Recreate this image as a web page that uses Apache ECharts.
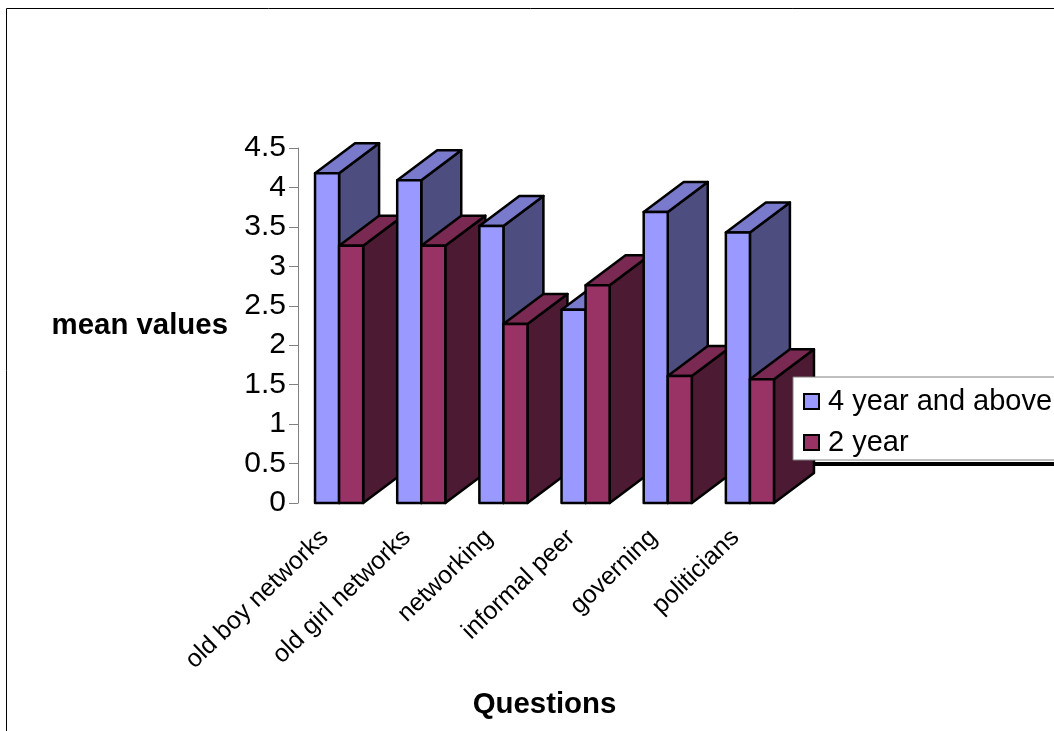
<!DOCTYPE html>
<html><head><meta charset="utf-8">
<style>html,body{margin:0;padding:0;background:#fff;overflow:hidden}#c{width:1054px;height:731px}</style>
<script src="https://cdn.jsdelivr.net/npm/echarts@6/dist/echarts.min.js"></script>
</head><body><div id="c"></div>
<script>
const categories = ['old boy networks','old girl networks','networking','informal peer','governing','politicians'];
const fourYear = [4.18,4.09,3.51,2.45,3.69,3.43];
const twoYear = [3.26,3.26,2.27,2.76,1.61,1.57];
const seriesNames = ['4 year and above','2 year'];
const FONT = '"Liberation Sans", Arial, sans-serif';
const DX = 40, DY = 30, BAR_RATIO = 0.2927;
const palette = [
  {front:'#9999FF', top:'#7A7ACC', side:'#4D4D80'},
  {front:'#993366', top:'#7A2952', side:'#4D1A33'}
];
function bar3d(seriesIdx){
  return function(params, api){
    const cat = api.value(0), val = api.value(1);
    const base = api.coord([cat,0]), tip = api.coord([cat,val]);
    const w = api.size([1,0])[0]*BAR_RATIO;
    const x0 = base[0] + (seriesIdx-1)*w, x1 = x0 + w;
    const yb = base[1], yt = tip[1];
    const c = palette[seriesIdx];
    const z2 = cat*10 + seriesIdx*3;
    const st = f => ({fill:f, stroke:'#000', lineWidth:2.5, lineJoin:'round'});
    return {type:'group', children:[
      {type:'polygon', z2:z2, shape:{points:[[x1,yb],[x1+DX,yb-DY],[x1+DX,yt-DY],[x1,yt]]}, style:st(c.side)},
      {type:'polygon', z2:z2+1, shape:{points:[[x0,yt],[x0+DX,yt-DY],[x1+DX,yt-DY],[x1,yt]]}, style:st(c.top)},
      {type:'polygon', z2:z2+2, shape:{points:[[x0,yb],[x1,yb],[x1,yt],[x0,yt]]}, style:st(c.front)}
    ]};
  };
}
const chart = echarts.init(document.getElementById('c'));
chart.setOption({
  animation:false,
  backgroundColor:'#fff',
  textStyle:{fontFamily:FONT},
  graphic:[
    {type:'rect', z:0, silent:true, shape:{x:6.5,y:8.5,width:1100,height:800}, style:{fill:'none',stroke:'#000',lineWidth:1}},
    {type:'rect', z:0, silent:true, shape:{x:798,y:462,width:300,height:4}, style:{fill:'#000'}}
  ],
  grid:{left:298, top:148, width:493, height:355, outerBoundsMode:'none'},
  legend:{
    orient:'vertical', left:793, top:377, padding:[10,60,3,10],
    backgroundColor:'#fff', borderColor:'#808080', borderWidth:1, borderRadius:0,
    itemWidth:15, itemHeight:15, itemGap:12, z:20,
    textStyle:{fontFamily:FONT,fontSize:29,color:'#000',padding:[0,0,0,4]},
    selectedMode:false,
    data:seriesNames.map((n,i)=>({name:n, icon:'rect', itemStyle:{color:palette[i].front, borderColor:'#000', borderWidth:2}}))
  },
  xAxis:{
    type:'category', data:categories, boundaryGap:true,
    axisLine:{show:false}, axisTick:{show:false}, splitLine:{show:false},
    axisLabel:{rotate:44, interval:0, margin:17, fontSize:25, color:'#000', fontFamily:FONT, padding:[0,20,0,0]},
    name:'Questions', nameLocation:'middle', nameGap:187,
    nameTextStyle:{fontFamily:FONT,fontSize:29.4,fontWeight:'bold',color:'#000'}
  },
  yAxis:{
    type:'value', min:0, max:4.5, interval:0.5,
    axisLine:{show:true, lineStyle:{color:'#808080',width:1}},
    axisTick:{show:true, length:9, lineStyle:{color:'#808080',width:1}},
    splitLine:{show:false},
    axisLabel:{margin:12, fontSize:30, color:'#000', fontFamily:FONT, padding:[4,0,0,0]},
    name:'mean values', nameLocation:'middle', nameRotate:0, nameGap:70,
    nameTextStyle:{fontFamily:FONT,fontSize:29.4,fontWeight:'bold',color:'#000'}
  },
  series:[fourYear,twoYear].map((vals,i)=>({
    type:'custom', name:seriesNames[i], z:5, clip:false,
    itemStyle:{color:palette[i].front},
    encode:{x:0,y:1},
    renderItem:bar3d(i),
    data:vals.map((v,k)=>[k,v])
  }))
});
</script></body></html>
